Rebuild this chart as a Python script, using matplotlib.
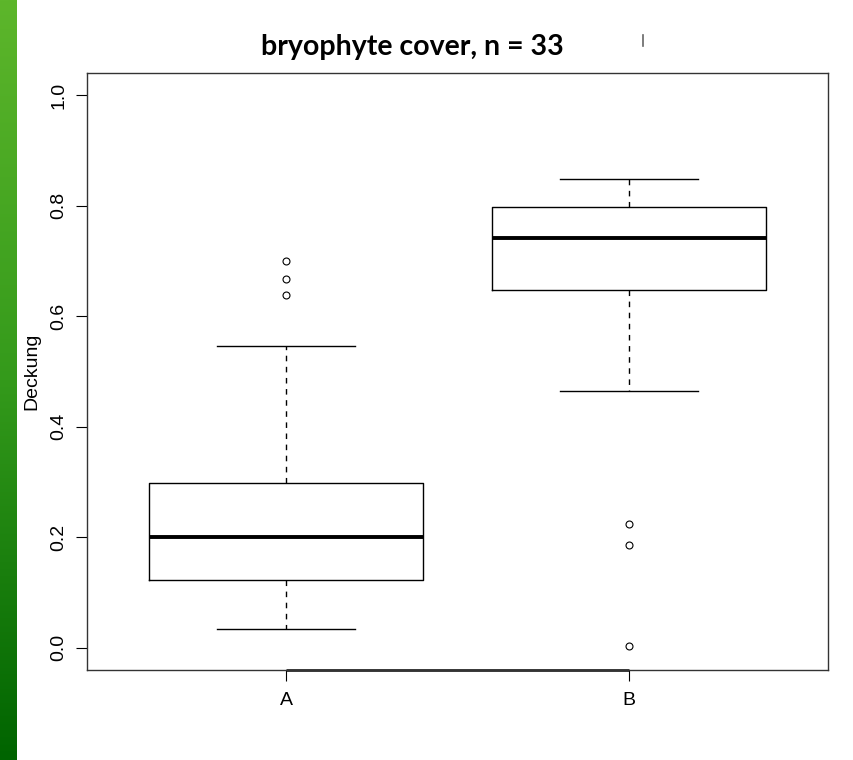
import matplotlib
matplotlib.use("Agg")
import matplotlib.pyplot as plt
import numpy as np
from matplotlib.colors import LinearSegmentedColormap

# ---- data ----
categories = ["A", "B"]
whis_low = [0.035, 0.464]
q1 = [0.123, 0.647]
medians = [0.200, 0.742]
q3 = [0.298, 0.798]
whis_high = [0.547, 0.849]
fliers_A = [0.638, 0.668, 0.699]
fliers_B = [0.004, 0.187, 0.224]
yticks = [0.0, 0.2, 0.4, 0.6, 0.8, 1.0]
ytick_labels = ["0.0", "0.2", "0.4", "0.6", "0.8", "1.0"]

W, H = 854, 760
fig = plt.figure(figsize=(W / 100, H / 100), dpi=100)
fig.patch.set_facecolor("white")

# green gradient strip on the left
sax = fig.add_axes([0, 0, 17 / W, 1])
cmap = LinearSegmentedColormap.from_list("g", ["#5db62b", "#349a1b", "#006400"])
sax.imshow(np.linspace(0, 1, 256).reshape(-1, 1), aspect="auto", cmap=cmap,
           extent=[0, 1, 0, 1])
sax.set_axis_off()

ax = fig.add_axes([87 / W, (H - 670) / H, (828 - 87) / W, (670 - 73) / H])

stats = []
fl = [fliers_A, fliers_B]
for i in range(len(categories)):
    stats.append(dict(label=categories[i], whislo=whis_low[i], q1=q1[i], med=medians[i],
                      q3=q3[i], whishi=whis_high[i], fliers=fl[i]))

ax.bxp(stats, positions=[1, 2], widths=0.8, showfliers=True,
       boxprops=dict(color="black", linewidth=1.0),
       medianprops=dict(color="black", linewidth=2.8, solid_capstyle="butt"),
       whiskerprops=dict(color="black", linewidth=1.0, linestyle=(0, (4, 4))),
       capprops=dict(color="black", linewidth=1.0),
       capwidths=0.4,
       flierprops=dict(marker="o", markerfacecolor="none", markeredgecolor="black",
                       markersize=5, markeredgewidth=0.8, linestyle="none"))

ax.set_xlim(0.42, 2.58)
ax.set_ylim(-0.04, 1.04)

font = ["Liberation Sans", "DejaVu Sans"]
ax.set_yticks(yticks)
ax.set_yticklabels(ytick_labels, rotation=90, va="center", fontsize=14, family=font)
ax.set_xticks([1, 2])
ax.set_xticklabels(categories, fontsize=14, family=font)
ax.tick_params(axis="y", length=8, width=0.8, pad=6)
ax.tick_params(axis="x", length=8, width=0.8, pad=8)
for s in ax.spines.values():
    s.set_linewidth(1.0)
    s.set_color("#333333")
# R axis line between first and last tick
ax.plot([1, 2], [-0.04, -0.04], color="black", lw=1.8, clip_on=False, solid_capstyle="butt")

ax.set_ylabel("Deckung", fontsize=14, family=font)
ax.yaxis.set_label_coords((40 - 87) / 741, 0.5)

fig.text(412 / W, 1 - 47 / H, "bryophyte cover, n = 33", ha="center", va="center",
         fontsize=20.5, fontweight="bold", family=["Lato", "Open Sans", "DejaVu Sans"])
fig.add_artist(plt.Line2D([643 / W, 643 / W], [1 - 35 / H, 1 - 46 / H],
                          transform=fig.transFigure, color="#666666", lw=1.2))

fig.savefig("out.png", dpi=100)
